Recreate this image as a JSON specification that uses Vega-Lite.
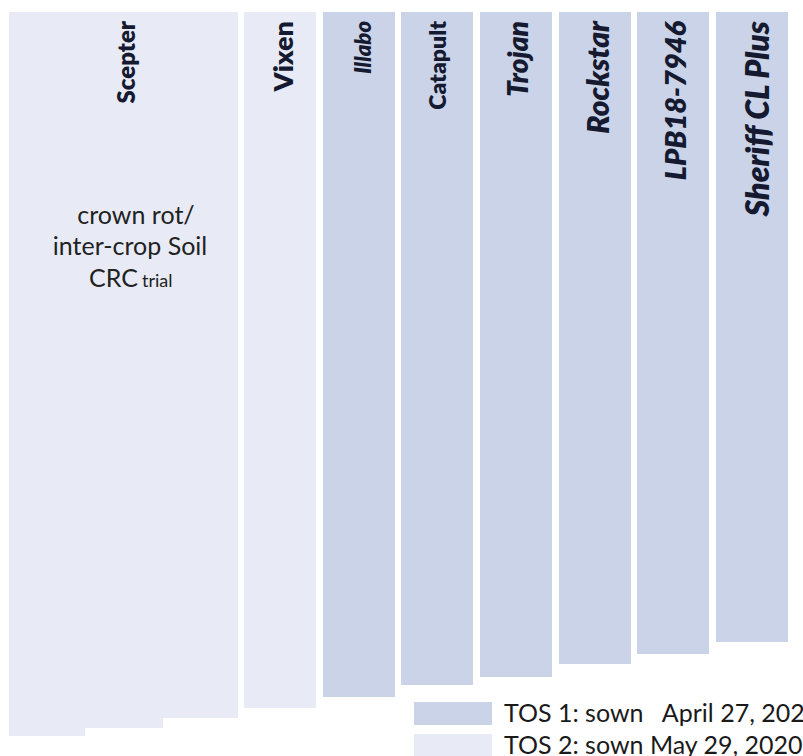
{
  "$schema": "https://vega.github.io/schema/vega-lite/v6.json",
  "width": 803,
  "height": 756,
  "autosize": {"type": "none"},
  "padding": 0,
  "config": {"view": {"stroke": null}, "font": "Lato"},
  "datasets": {
    "plots": [
      {"variety": "Scepter", "tos": "TOS 2", "x_start": 9, "x_end": 85, "y_start": 12, "y_end": 736},
      {"variety": "Scepter", "tos": "TOS 2", "x_start": 85, "x_end": 163, "y_start": 12, "y_end": 728},
      {"variety": "Scepter", "tos": "TOS 2", "x_start": 163, "x_end": 238, "y_start": 12, "y_end": 718},
      {"variety": "Vixen", "tos": "TOS 2", "x_start": 244, "x_end": 316, "y_start": 12, "y_end": 708},
      {"variety": "Illabo", "tos": "TOS 1", "x_start": 323, "x_end": 395, "y_start": 12, "y_end": 697},
      {"variety": "Catapult", "tos": "TOS 1", "x_start": 401, "x_end": 473, "y_start": 12, "y_end": 685},
      {"variety": "Trojan", "tos": "TOS 1", "x_start": 480, "x_end": 552, "y_start": 12, "y_end": 677},
      {"variety": "Rockstar", "tos": "TOS 1", "x_start": 559, "x_end": 631, "y_start": 12, "y_end": 664},
      {"variety": "LPB18-7946", "tos": "TOS 1", "x_start": 637, "x_end": 709, "y_start": 12, "y_end": 654},
      {"variety": "Sheriff CL Plus", "tos": "TOS 1", "x_start": 716, "x_end": 788, "y_start": 12, "y_end": 642}
    ],
    "labels": [
      {"variety": "Scepter", "x": 135, "y": 21},
      {"variety": "Vixen", "x": 293, "y": 21},
      {"variety": "Illabo", "x": 371, "y": 21},
      {"variety": "Catapult", "x": 446, "y": 21},
      {"variety": "Trojan", "x": 528, "y": 21},
      {"variety": "Rockstar", "x": 609, "y": 21},
      {"variety": "LPB18-7946", "x": 686, "y": 21},
      {"variety": "Sheriff CL Plus", "x": 769, "y": 21}
    ],
    "notes": [
      {"note": "crown rot/", "x": 136, "y": 224},
      {"note": "inter-crop Soil", "x": 130, "y": 255},
      {"note": "CRC", "x": 138, "y": 287},
      {"note": "trial", "x": 142, "y": 287}
    ]
  },
  "layer": [
    {
      "data": {"name": "plots"},
      "mark": {"type": "rect"},
      "encoding": {
        "x": {"field": "x_start", "type": "quantitative", "axis": null, "scale": {"domain": [0, 803], "nice": false, "zero": false}},
        "x2": {"field": "x_end"},
        "y": {"field": "y_start", "type": "quantitative", "axis": null, "scale": {"domain": [0, 756], "nice": false, "zero": false, "reverse": true}},
        "y2": {"field": "y_end"},
        "color": {
          "field": "tos",
          "type": "nominal",
          "scale": {"domain": ["TOS 1", "TOS 2"], "range": ["#cbd3e8", "#e8ebf5"]},
          "legend": {
            "orient": "none",
            "legendX": 414,
            "legendY": 702,
            "title": null,
            "padding": 0,
            "symbolType": "M-1,-0.295H1V0.295H-1Z",
            "symbolSize": 6084,
            "symbolStrokeWidth": 0,
            "clipHeight": 23,
            "rowPadding": 6,
            "labelFont": "Lato",
            "labelFontSize": 25,
            "labelColor": "#1a1a1a",
            "labelOffset": 12,
            "labelLimit": 0,
            "labelExpr": "datum.label == 'TOS 1' ? 'TOS 1: sown\u00a0\u00a0 April 27, 2020' : 'TOS 2: sown May 29, 2020'"
          }
        }
      }
    },
    {
      "data": {"name": "labels"},
      "transform": [{"filter": {"field": "variety", "equal": "Scepter"}}],
      "mark": {"type": "text", "angle": 270, "align": "right", "baseline": "alphabetic", "fontSize": 24, "fontWeight": 800, "color": "#151a30"},
      "encoding": {
        "x": {"field": "x", "type": "quantitative"},
        "y": {"field": "y", "type": "quantitative"},
        "text": {"field": "variety"}
      }
    },
    {
      "data": {"name": "labels"},
      "transform": [{"filter": {"field": "variety", "equal": "Vixen"}}],
      "mark": {"type": "text", "angle": 270, "align": "right", "baseline": "alphabetic", "fontSize": 27, "fontWeight": 800, "color": "#151a30"},
      "encoding": {
        "x": {"field": "x", "type": "quantitative"},
        "y": {"field": "y", "type": "quantitative"},
        "text": {"field": "variety"}
      }
    },
    {
      "data": {"name": "labels"},
      "transform": [{"filter": {"field": "variety", "equal": "Catapult"}}],
      "mark": {"type": "text", "angle": 270, "align": "right", "baseline": "alphabetic", "fontSize": 23, "fontWeight": 800, "color": "#151a30"},
      "encoding": {
        "x": {"field": "x", "type": "quantitative"},
        "y": {"field": "y", "type": "quantitative"},
        "text": {"field": "variety"}
      }
    },
    {
      "data": {"name": "labels"},
      "transform": [{"filter": {"field": "variety", "equal": "Illabo"}}],
      "mark": {"type": "text", "angle": 270, "align": "right", "baseline": "alphabetic", "fontSize": 22, "fontWeight": 800, "fontStyle": "italic", "color": "#151a30"},
      "encoding": {
        "x": {"field": "x", "type": "quantitative"},
        "y": {"field": "y", "type": "quantitative"},
        "text": {"field": "variety"}
      }
    },
    {
      "data": {"name": "labels"},
      "transform": [{"filter": {"field": "variety", "equal": "Trojan"}}],
      "mark": {"type": "text", "angle": 270, "align": "right", "baseline": "alphabetic", "fontSize": 28, "fontWeight": 800, "fontStyle": "italic", "color": "#151a30"},
      "encoding": {
        "x": {"field": "x", "type": "quantitative"},
        "y": {"field": "y", "type": "quantitative"},
        "text": {"field": "variety"}
      }
    },
    {
      "data": {"name": "labels"},
      "transform": [{"filter": {"field": "variety", "equal": "Rockstar"}}],
      "mark": {"type": "text", "angle": 270, "align": "right", "baseline": "alphabetic", "fontSize": 30, "fontWeight": 800, "fontStyle": "italic", "color": "#151a30"},
      "encoding": {
        "x": {"field": "x", "type": "quantitative"},
        "y": {"field": "y", "type": "quantitative"},
        "text": {"field": "variety"}
      }
    },
    {
      "data": {"name": "labels"},
      "transform": [{"filter": {"field": "variety", "equal": "LPB18-7946"}}],
      "mark": {"type": "text", "angle": 270, "align": "right", "baseline": "alphabetic", "fontSize": 29, "fontWeight": 800, "fontStyle": "italic", "color": "#151a30"},
      "encoding": {
        "x": {"field": "x", "type": "quantitative"},
        "y": {"field": "y", "type": "quantitative"},
        "text": {"field": "variety"}
      }
    },
    {
      "data": {"name": "labels"},
      "transform": [{"filter": {"field": "variety", "equal": "Sheriff CL Plus"}}],
      "mark": {"type": "text", "angle": 270, "align": "right", "baseline": "alphabetic", "fontSize": 32, "fontWeight": 800, "fontStyle": "italic", "color": "#151a30"},
      "encoding": {
        "x": {"field": "x", "type": "quantitative"},
        "y": {"field": "y", "type": "quantitative"},
        "text": {"field": "variety"}
      }
    },
    {
      "data": {"name": "notes"},
      "transform": [{"filter": {"field": "note", "oneOf": ["crown rot/", "inter-crop Soil"]}}],
      "mark": {"type": "text", "align": "center", "baseline": "alphabetic", "fontSize": 25, "color": "#222222"},
      "encoding": {
        "x": {"field": "x", "type": "quantitative"},
        "y": {"field": "y", "type": "quantitative"},
        "text": {"field": "note"}
      }
    },
    {
      "data": {"name": "notes"},
      "transform": [{"filter": {"field": "note", "equal": "CRC"}}],
      "mark": {"type": "text", "align": "right", "baseline": "alphabetic", "fontSize": 25, "color": "#222222"},
      "encoding": {
        "x": {"field": "x", "type": "quantitative"},
        "y": {"field": "y", "type": "quantitative"},
        "text": {"field": "note"}
      }
    },
    {
      "data": {"name": "notes"},
      "transform": [{"filter": {"field": "note", "equal": "trial"}}],
      "mark": {"type": "text", "align": "left", "baseline": "alphabetic", "fontSize": 18, "color": "#222222"},
      "encoding": {
        "x": {"field": "x", "type": "quantitative"},
        "y": {"field": "y", "type": "quantitative"},
        "text": {"field": "note"}
      }
    }
  ]
}
